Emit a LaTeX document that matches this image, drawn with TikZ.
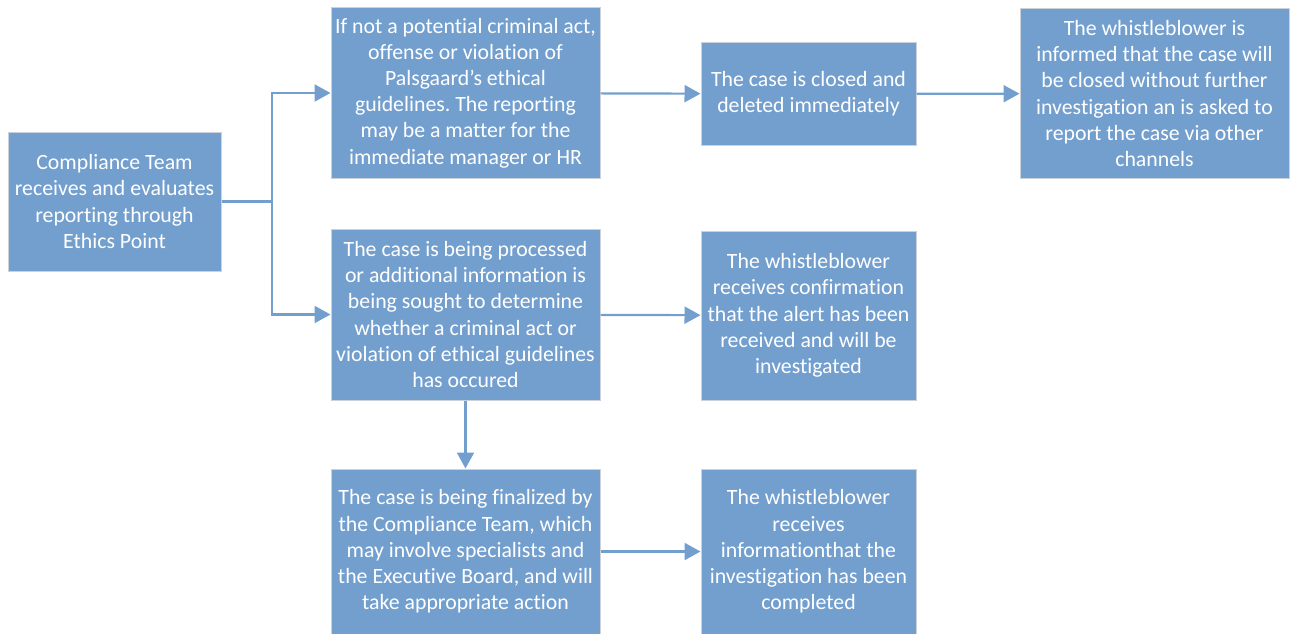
\documentclass[tikz,border=0pt]{standalone}
\usepackage{fontspec}
\setmainfont[Ligatures={NoCommon}]{Carlito}
\frenchspacing
\usetikzlibrary{arrows.meta}
\definecolor{boxblue}{RGB}{115,159,206}
\definecolor{boxedge}{RGB}{205,210,218}

\begin{document}
\begin{tikzpicture}[x=1pt, y=-1pt,
    stepbox/.style={rectangle, draw=boxedge, line width=1pt, fill=boxblue, text=white, align=center,
                    font=\fontsize{21.8}{26.2}\selectfont, inner sep=0pt},
    flow/.style={draw=boxblue, line width=2.2pt, -{Triangle[length=16pt, width=17pt]}}]

         \useasboundingbox (0,0) rectangle (1290,634);

         \node [stepbox, minimum width=213pt, minimum height=139pt] (receive)  at (114.5,201.5) {Compliance Team\\receives and evaluates\\reporting through\\Ethics Point};
         \node [stepbox, minimum width=269pt, minimum height=170pt] (notcrime) at (465.5,93)    {If not a potential criminal act,\\offense or violation of\\Palsgaard’s ethical\\guidelines. The reporting\\may be a matter for the\\immediate manager or HR};
         \node [stepbox, minimum width=215pt, minimum height=102pt] (closed)   at (808.5,94)    {The case is closed and\\deleted immediately};
         \node [stepbox, minimum width=269pt, minimum height=169pt] (informed) at (1154.5,93.5) {The whistleblower is\\informed that the case will\\be closed without further\\investigation an is asked to\\report the case via other\\channels};

         \node [stepbox, minimum width=269pt, minimum height=171pt] (process)  at (465.5,314.5) {The case is being processed\\or additional information is\\being sought to determine\\whether a criminal act or\\violation of ethical guidelines\\has occured};
         \node [stepbox, minimum width=215pt, minimum height=169pt] (confirm)  at (808.5,315.5) {The whistleblower\\receives confirmation\\that the alert has been\\received and will be\\investigated};

         \node [stepbox, minimum width=269pt, minimum height=165pt] (finalize) at (465.5,551.5) {The case is being finalized by\\the Compliance Team, which\\may involve specialists and\\the Executive Board, and will\\take appropriate action};
         \node [stepbox, minimum width=215pt, minimum height=165pt] (complete) at (808.5,551.5) {The whistleblower\\receives\\informationthat the\\investigation has been\\completed};

         \coordinate (fork) at (272,201.5);

         \draw [flow, -] (receive) -- (fork);
         \draw [flow] (fork) |- (notcrime);
         \draw [flow] (fork) |- (process);
         \draw [flow] (notcrime) -- (closed);
         \draw [flow] (closed) -- (informed);
         \draw [flow] (process) -- (confirm);
         \draw [flow] (process) -- (finalize);
         \draw [flow] (finalize) -- (complete);

        \end{tikzpicture}
\end{document}
